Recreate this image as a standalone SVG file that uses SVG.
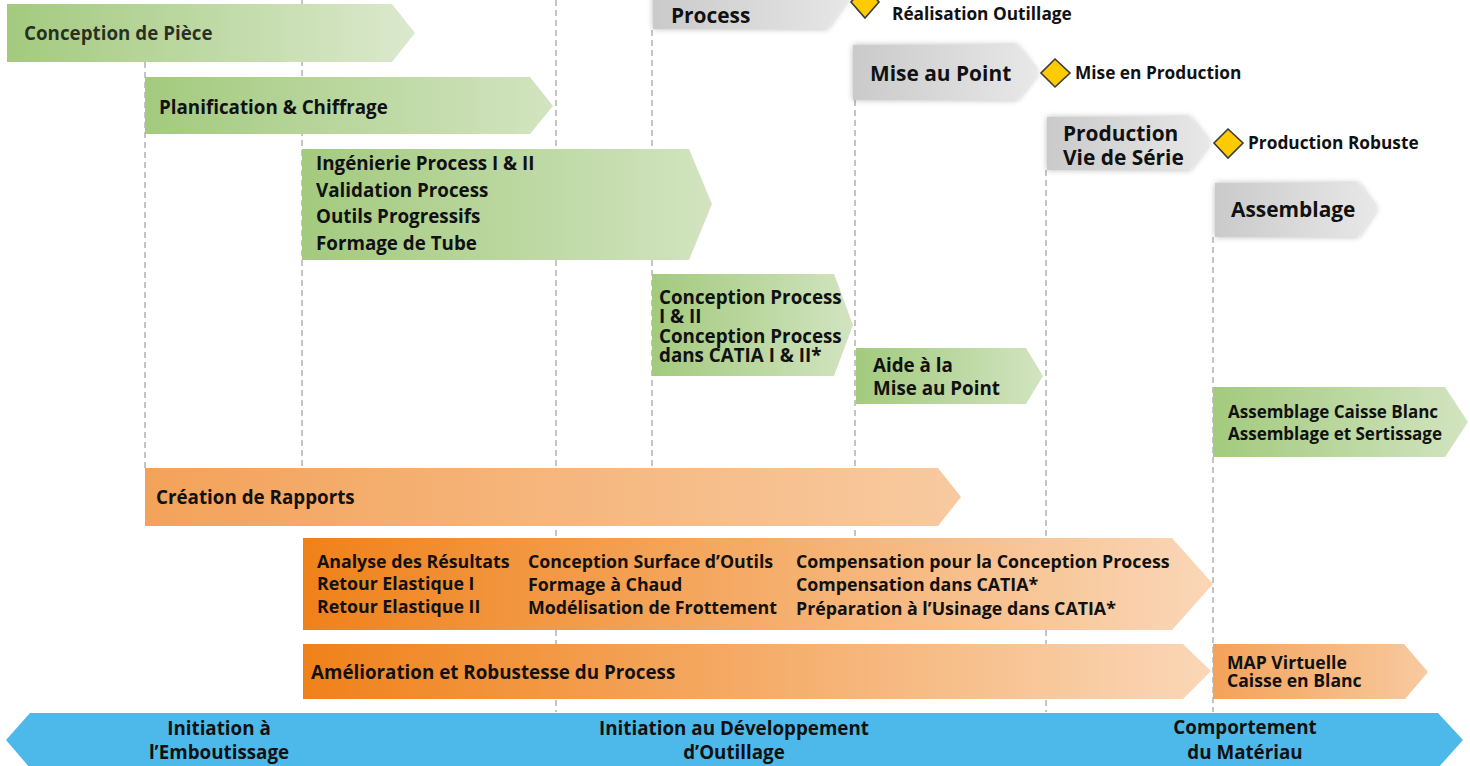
<svg xmlns="http://www.w3.org/2000/svg" width="1470" height="766" viewBox="0 0 1470 766">
<defs>
<linearGradient id="g1"><stop offset="0" stop-color="#a3ca7e"/><stop offset="1" stop-color="#dbe9cd"/></linearGradient>
<linearGradient id="g2"><stop offset="0" stop-color="#a3ca7e"/><stop offset="1" stop-color="#d2e4c0"/></linearGradient>
<linearGradient id="go"><stop offset="0" stop-color="#f08119"/><stop offset="1" stop-color="#fad7b8"/></linearGradient>
<linearGradient id="go2"><stop offset="0" stop-color="#f3a259"/><stop offset="1" stop-color="#f8caa0"/></linearGradient>
<linearGradient id="gr"><stop offset="0" stop-color="#cacaca"/><stop offset="1" stop-color="#e8e8e8"/></linearGradient>
<filter id="s" x="-10%" y="-25%" width="120%" height="150%"><feGaussianBlur in="SourceAlpha" stdDeviation="3"/><feComponentTransfer><feFuncA type="linear" slope="0.28"/></feComponentTransfer><feMerge><feMergeNode/><feMergeNode in="SourceGraphic"/></feMerge></filter>
</defs>
<style>
text{font-family:"Open Sans","Noto Sans","Liberation Sans",sans-serif;font-weight:700;fill:#111}
.d{fill:none;stroke:#8a8a8a;stroke-width:1;stroke-dasharray:6 4}
.m{fill:#fecb00;stroke:#3a3a3a;stroke-width:1.6}
.t18{font-size:18.8px}.t17{font-size:17.8px}.t20{font-size:20.9px}.l{font-size:17.3px}.c{font-size:17px}.p{font-size:17.6px}
</style>
<rect width="1470" height="766" fill="#fff"/>
<g id="connectors">
<path class="d" d="M145 62V468M302 0V468M556 0V712M652 30V468M855 100V538M1046 170V712M1213 237V712"/>
</g>
<g id="conception-piece"><path d="M7 4H392L415 33L392 62H7Z" fill="url(#g1)"/><text class="t18" x="24" y="40" fill-opacity=".85">Conception de Pièce</text></g>
<g id="planification"><path d="M145 77H530L553 106L530 134H145Z" fill="url(#g2)"/><text class="t18" x="159" y="114">Planification &amp; Chiffrage</text></g>
<g id="ingenierie"><path d="M302 149H689L712 204L689 260H302Z" fill="url(#g2)"/><text class="t18" x="316" y="170">Ingénierie Process I &amp; II</text><text class="t18" x="316" y="197">Validation Process</text><text class="t18" x="316" y="223">Outils Progressifs</text><text class="t18" x="316" y="250">Formage de Tube</text></g>
<g id="process-top"><path d="M653 -20H861L827 29H653Z" fill="url(#gr)" filter="url(#s)"/><text class="t20" x="671" y="23">Process</text></g>
<g id="jalon-realisation"><path class="m" d="M865 -14L879 2L865 18L851 2Z"/><text class="l" x="892" y="20">Réalisation Outillage</text></g>
<g id="mise-au-point"><path d="M853 45H1017L1038 73L1017 100H853Z" fill="url(#gr)" filter="url(#s)"/><text class="t20" x="870" y="81">Mise au Point</text></g>
<g id="jalon-production"><path class="m" d="M1055 59L1070 73L1055 87L1041 73Z"/><text class="l" x="1075" y="79">Mise en Production</text></g>
<g id="production"><path d="M1047 117H1190L1210 143L1190 170H1047Z" fill="url(#gr)" filter="url(#s)"/><text class="t20" x="1063" y="141">Production</text><text class="t20" x="1063" y="165">Vie de Série</text></g>
<g id="jalon-robuste"><path class="m" d="M1228 129L1243 143L1228 158L1214 143Z"/><text class="l" x="1248" y="149">Production Robuste</text></g>
<g id="assemblage"><path d="M1215 183H1358L1377 209L1358 237H1215Z" fill="url(#gr)" filter="url(#s)"/><text class="t20" x="1231" y="217">Assemblage</text></g>
<g id="conception-process"><path d="M652 274H834L853 325L834 376H652Z" fill="url(#g2)"/><text class="t18" x="659" y="304">Conception Process</text><text class="t18" x="659" y="323">I &amp; II</text><text class="t18" x="659" y="343">Conception Process</text><text class="t18" x="659" y="362">dans CATIA I &amp; II*</text></g>
<g id="aide"><path d="M856 348H1026L1043 376L1026 404H856Z" fill="url(#g2)"/><text class="t18" x="873" y="372">Aide à la</text><text class="t18" x="873" y="395">Mise au Point</text></g>
<g id="assemblage-caisse"><path d="M1213 387H1445L1468 422L1445 457H1213Z" fill="url(#g2)"/><text class="c" x="1228" y="418">Assemblage Caisse Blanc</text><text class="c" x="1228" y="440">Assemblage et Sertissage</text></g>
<g id="rapports"><path d="M145 468H938L961 497L938 526H145Z" fill="url(#go2)"/><text class="t18" x="156" y="504">Création de Rapports</text></g>
<g id="analyse"><path d="M303 538H1172L1213 584L1172 630H303Z" fill="url(#go)"/>
<text class="t17" x="317" y="568">Analyse des Résultats</text><text class="t17" x="317" y="590">Retour Elastique I</text><text class="t17" x="317" y="613">Retour Elastique II</text>
<text class="t17" x="528" y="568">Conception Surface d’Outils</text><text class="t17" x="528" y="591">Formage à Chaud</text><text class="t17" x="528" y="614">Modélisation de Frottement</text>
<text class="t17" x="796" y="568">Compensation pour la Conception Process</text><text class="t17" x="796" y="591">Compensation dans CATIA*</text><text class="t17" x="796" y="615">Préparation à l’Usinage dans CATIA*</text></g>
<g id="amelioration"><path d="M303 644H1183L1211 671L1183 699H303Z" fill="url(#go)"/><text class="t18" x="311" y="679">Amélioration et Robustesse du Process</text></g>
<g id="map"><path d="M1213 644H1404L1428 672L1405 699H1213Z" fill="url(#go2)"/><text class="p" x="1227" y="669">MAP Virtuelle</text><text class="p" x="1227" y="687">Caisse en Blanc</text></g>
<g id="bande"><path d="M30 713H1438L1463 740L1438 768H30L6 740Z" fill="#4db9ea"/>
<g text-anchor="middle"><text class="t18" x="219" y="735">Initiation à</text><text class="t18" x="219" y="759">l’Emboutissage</text>
<text class="t18" x="734" y="735">Initiation au Développement</text><text class="t18" x="734" y="759">d’Outillage</text>
<text class="t18" x="1245" y="734">Comportement</text><text class="t18" x="1245" y="759">du Matériau</text></g></g>
</svg>
